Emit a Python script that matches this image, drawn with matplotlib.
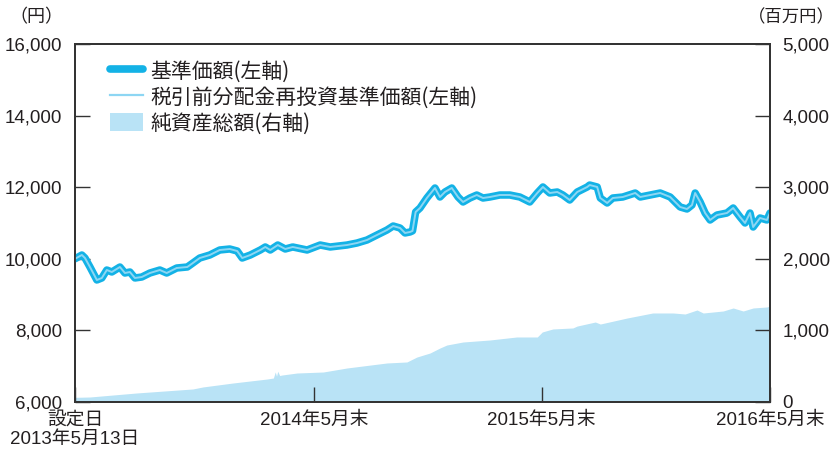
import matplotlib
matplotlib.use("Agg")
import matplotlib.pyplot as plt
from matplotlib.lines import Line2D
from matplotlib.patches import Patch
import pandas as pd

plt.rcParams['font.family'] = ['Liberation Sans', 'Noto Sans CJK JP', 'DejaVu Sans']
CJK = ['Noto Sans CJK JP', 'DejaVu Sans']

# ---------------- data ----------------
launch = "2013-05-13"
end_date = "2016-05-31"

# days since launch, and NAV (yen)
nav_days = [0, 11, 16, 24, 35, 43, 51, 59, 72, 80, 88, 96, 107, 120, 136, 147, 163, 180,
            189, 200, 216, 232, 248, 260, 268, 281, 297, 305, 313, 325, 337, 349, 372,
            393, 409, 436, 452, 468, 484, 500, 510, 521, 529, 537, 541, 546, 553, 564,
            577, 585, 593, 604, 614, 622, 633, 644, 654, 665, 681, 697, 713, 729, 741,
            750, 761, 773, 782, 793, 805, 821, 825, 837, 842, 853, 862, 878, 898, 906,
            922, 938, 954, 970, 981, 989, 994, 1002, 1010, 1018, 1029, 1045, 1055, 1066,
            1074, 1082, 1087, 1098, 1109, 1114]
nav = [10000, 10106, 10022, 9771, 9408, 9464, 9687, 9631, 9771, 9603, 9631, 9464, 9491,
       9603, 9687, 9603, 9743, 9771, 9883, 10022, 10106, 10246, 10274, 10218, 10022,
       10106, 10246, 10330, 10246, 10385, 10274, 10330, 10246, 10385, 10330, 10385,
       10441, 10525, 10665, 10804, 10916, 10860, 10721, 10749, 10780, 11307, 11419,
       11698, 11978, 11726, 11866, 11978, 11726, 11587, 11698, 11782, 11698, 11726,
       11782, 11782, 11726, 11587, 11838, 12006, 11838, 11866, 11782, 11642, 11866,
       12006, 12061, 12006, 11698, 11559, 11698, 11726, 11838, 11726, 11782, 11838,
       11726, 11447, 11391, 11503, 11838, 11587, 11279, 11084, 11223, 11279, 11419,
       11168, 11000, 11279, 10888, 11140, 11084, 11279]
# reinvested NAV (no distributions, identical to NAV)
nav_reinv = list(nav)

# net assets (million yen)
asset_days = [0, 24, 99, 189, 205, 253, 308, 318, 321, 323, 325, 328, 332, 356, 398, 436,
              500, 532, 548, 569, 585, 596, 622, 665, 708, 741, 749, 766, 798, 805, 834,
              842, 885, 926, 959, 978, 997, 1007, 1039, 1055, 1071, 1087, 1109, 1114]
assets = [65, 70, 126, 182, 210, 265, 321, 335, 420, 360, 430, 370, 377, 405, 419, 475,
          545, 559, 628, 684, 754, 796, 838, 866, 908, 908, 978, 1020, 1034, 1061, 1117,
          1089, 1173, 1243, 1243, 1229, 1285, 1243, 1271, 1313, 1271, 1313, 1327, 1340]

tick_dates = ["2013-05-13", "2014-05-31", "2015-05-31", "2016-05-31"]
tick_labels = ["設定日\n2013年5月13日", "2014年5月末", "2015年5月末", "2016年5月末"]
left_ticks = [6000, 8000, 10000, 12000, 14000, 16000]
right_ticks = [0, 1000, 2000, 3000, 4000, 5000]
legend_labels = ["基準価額(左軸)", "税引前分配金再投資基準価額(左軸)", "純資産総額(右軸)"]

# ---------------- styles ----------------
C_NAV = "#13b2e6"
C_INNER = "#8dd6f3"
C_AREA = "#b9e3f6"
C_TEXT = "#231f20"
C_AX = "#333333"

t0 = pd.Timestamp(launch)
nav_x = t0 + pd.to_timedelta(nav_days, unit="D")
asset_x = t0 + pd.to_timedelta(asset_days, unit="D")

fig = plt.figure(figsize=(8.35, 4.59), dpi=100)
ax = fig.add_axes([75/835, 1-402/459, 695/835, 358/459])
ax2 = ax.twinx()
ax.set_zorder(ax2.get_zorder() + 1)
ax.patch.set_visible(False)

ax2.fill_between(asset_x, 0, assets, color=C_AREA, lw=0)
ax.plot(nav_x, nav, color=C_NAV, lw=5.4, solid_joinstyle="round", solid_capstyle="round")
ax.plot(nav_x, nav_reinv, color=C_INNER, lw=1.4)

ax.set_xlim(t0, pd.Timestamp(end_date))
ax.set_ylim(6000, 16000)
ax2.set_ylim(0, 5000)

ax.set_yticks(left_ticks)
ax.set_yticklabels([f"{v:,}" for v in left_ticks])
ax2.set_yticks(right_ticks)
ax2.set_yticklabels([f"{v:,}" for v in right_ticks])
ax.set_xticks(pd.to_datetime(tick_dates))
ax.set_xticklabels(tick_labels, linespacing=1.15)

for a in (ax, ax2):
    for s in a.spines.values():
        s.set_color(C_AX)
        s.set_linewidth(1.3)
ax.tick_params(axis="y", direction="in", length=10.5, width=1.0, color=C_AX,
               labelsize=13.5, labelcolor=C_TEXT, pad=9)
ax2.tick_params(axis="y", direction="in", length=10.5, width=1.0, color=C_AX,
                labelsize=13.5, labelcolor=C_TEXT, pad=9)
ax.tick_params(axis="x", direction="in", length=10.5, width=1.0, color=C_AX,
               labelsize=13.5, labelcolor=C_TEXT, pad=7)

fig.text(36/835, 1-17/459, "（円）", ha="center", va="center", fontsize=13,
         color=C_TEXT, family=CJK)
fig.text(835/835, 1-17/459, "（百万円）", ha="right", va="center", fontsize=12.5,
         color=C_TEXT, family=CJK)

handles = [Line2D([], [], color=C_NAV, lw=5.5, solid_capstyle="round"),
           Line2D([], [], color=C_INNER, lw=1.6),
           Patch(facecolor=C_AREA, edgecolor="none")]
leg = ax.legend(handles, legend_labels, loc="upper left", bbox_to_anchor=(0.050, 0.954),
                frameon=False, prop={"family": CJK, "size": 15}, handlelength=1.6,
                handleheight=0.95, handletextpad=0.34, labelspacing=0.19,
                borderaxespad=0, borderpad=0)
for t in leg.get_texts():
    t.set_color(C_TEXT)

fig.savefig("out.png", dpi=100)
